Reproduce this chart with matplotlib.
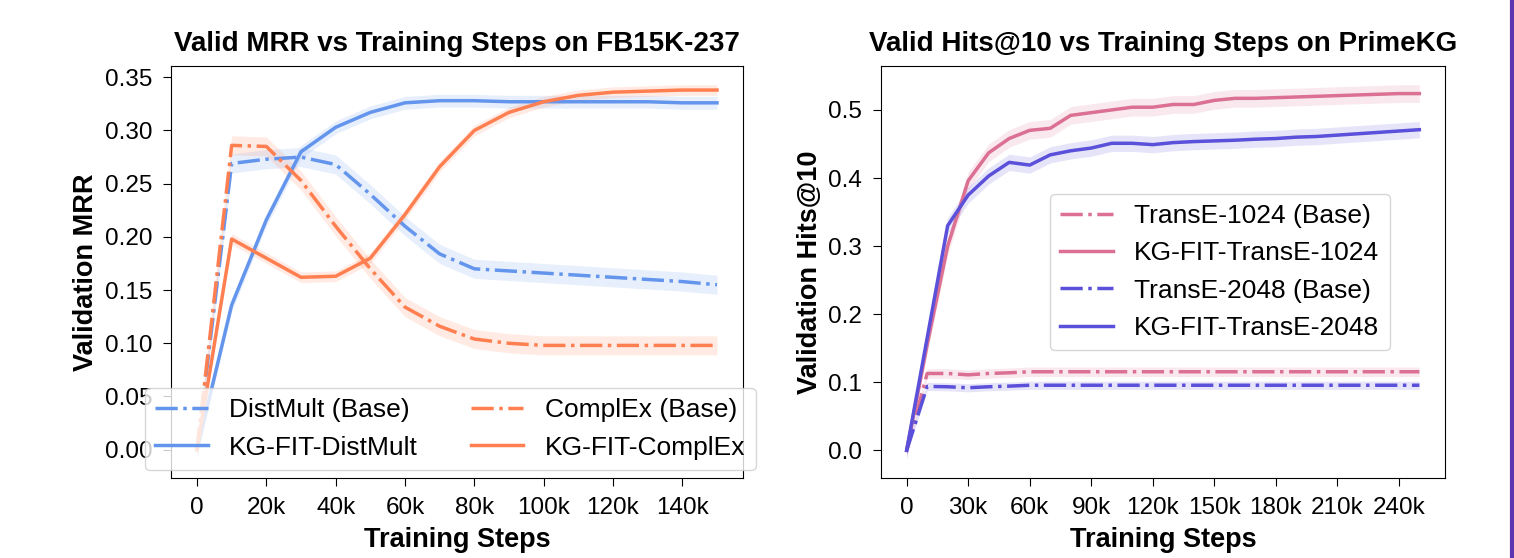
import matplotlib
matplotlib.use("Agg")
import matplotlib.pyplot as plt
from matplotlib.ticker import FuncFormatter
from matplotlib.lines import Line2D
import numpy as np

plt.rcParams['font.family'] = ['Liberation Sans', 'DejaVu Sans']

# ---- FB15K-237 (valid MRR) ----
steps_fb = [0, 10000, 20000, 30000, 40000, 50000, 60000, 70000, 80000,
            90000, 100000, 110000, 120000, 130000, 140000, 150000]
distmult_base = [0.0, 0.269, 0.273, 0.275, 0.268, 0.240, 0.210, 0.184, 0.170,
                 0.168, 0.166, 0.164, 0.162, 0.160, 0.158, 0.155]
kgfit_distmult = [0.0, 0.136, 0.216, 0.280, 0.303, 0.317, 0.326, 0.328, 0.328,
                  0.327, 0.327, 0.327, 0.327, 0.327, 0.326, 0.326]
complex_base = [0.0, 0.286, 0.285, 0.253, 0.210, 0.170, 0.134, 0.116, 0.104,
                0.100, 0.098, 0.098, 0.098, 0.098, 0.098, 0.098]
kgfit_complex = [0.0, 0.198, 0.180, 0.162, 0.163, 0.180, 0.221, 0.266, 0.300,
                 0.317, 0.327, 0.333, 0.336, 0.337, 0.338, 0.338]
band_fb = [0.009, 0.006, 0.009, 0.005]

# ---- PrimeKG (valid Hits@10) ----
steps_pk = [0, 10000, 20000, 30000, 40000, 50000, 60000, 70000, 80000, 90000,
            100000, 110000, 120000, 130000, 140000, 150000, 160000, 170000,
            180000, 190000, 200000, 210000, 220000, 230000, 240000, 250000]
transe1024_base = [0.0, 0.113, 0.113, 0.111, 0.113, 0.114, 0.1155, 0.1155, 0.1155,
                   0.1155, 0.1155, 0.1155, 0.1155, 0.1155, 0.1155, 0.1155, 0.1155,
                   0.1155, 0.1155, 0.1155, 0.1155, 0.1155, 0.1155, 0.1155, 0.1155, 0.1155]
kgfit_transe1024 = [0.0, 0.155, 0.300, 0.396, 0.437, 0.458, 0.470, 0.473, 0.492,
                    0.496, 0.500, 0.504, 0.504, 0.508, 0.508, 0.514, 0.517, 0.517,
                    0.518, 0.519, 0.520, 0.521, 0.522, 0.523, 0.524, 0.524]
transe2048_base = [0.0, 0.094, 0.0935, 0.092, 0.0935, 0.0944, 0.0957, 0.0957, 0.0957,
                   0.0957, 0.0957, 0.0957, 0.0957, 0.0957, 0.0957, 0.0957, 0.0957,
                   0.0957, 0.0957, 0.0957, 0.0957, 0.0957, 0.0957, 0.0957, 0.0957, 0.0957]
kgfit_transe2048 = [0.0, 0.165, 0.330, 0.375, 0.403, 0.423, 0.419, 0.434, 0.440,
                    0.444, 0.451, 0.451, 0.449, 0.452, 0.4535, 0.4545, 0.4555, 0.457,
                    0.458, 0.460, 0.461, 0.463, 0.465, 0.467, 0.469, 0.471]
band_pk = [0.007, 0.013, 0.006, 0.012]

blue = '#6495ED'
coral = '#FF7F50'
pink = '#DB7093'
purple = '#5B50D9'

def kfmt(v, pos):
    if v == 0:
        return '0'
    return '%dk' % int(round(v / 1000))

fig = plt.figure(figsize=(15.14, 5.58), dpi=100)
ax1 = fig.add_axes([171 / 1514, 80 / 558, 572 / 1514, 412 / 558])
ax2 = fig.add_axes([881 / 1514, 80 / 558, 564 / 1514, 412 / 558])

lw = 2.5
title_fs = 20
label_fs = 19.5
tick_fs = 17.5
legend_fs = 19

series_fb = [(distmult_base, blue, '-.', 'DistMult (Base)'),
             (kgfit_distmult, blue, '-', 'KG-FIT-DistMult'),
             (complex_base, coral, '-.', 'ComplEx (Base)'),
             (kgfit_complex, coral, '-', 'KG-FIT-ComplEx')]
x = np.array(steps_fb)
for (vals, c, ls, lab), b in zip(series_fb, band_fb):
    y = np.array(vals)
    ax1.fill_between(x, y - b, y + b, color=c, alpha=0.15, lw=0)
    ax1.plot(x, y, color=c, ls=ls, lw=lw, label=lab)

ax1.set_title('Valid MRR vs Training Steps on FB15K-237', fontsize=title_fs,
              fontweight='bold', pad=11)
ax1.set_xlabel('Training Steps', fontsize=label_fs, fontweight='bold', labelpad=6)
ax1.set_ylabel('Validation MRR', fontsize=label_fs, fontweight='bold')
ax1.set_xticks([0, 20000, 40000, 60000, 80000, 100000, 120000, 140000])
ax1.set_yticks([0.0, 0.05, 0.10, 0.15, 0.20, 0.25, 0.30, 0.35])
ax1.yaxis.set_major_formatter(FuncFormatter(lambda v, p: '%.2f' % v))
ax1.xaxis.set_major_formatter(FuncFormatter(kfmt))
ax1.tick_params(labelsize=tick_fs, length=5.5, pad=8)
ax1.legend(ncol=2, loc='lower center', bbox_to_anchor=(0.488, 0.0),
           fontsize=legend_fs, borderaxespad=0.3)

series_pk = [(transe1024_base, pink, '-.', 'TransE-1024 (Base)'),
             (kgfit_transe1024, pink, '-', 'KG-FIT-TransE-1024'),
             (transe2048_base, purple, '-.', 'TransE-2048 (Base)'),
             (kgfit_transe2048, purple, '-', 'KG-FIT-TransE-2048')]
x = np.array(steps_pk)
for (vals, c, ls, lab), b in zip(series_pk, band_pk):
    y = np.array(vals)
    ax2.fill_between(x, y - b, y + b, color=c, alpha=0.15, lw=0)
    ax2.plot(x, y, color=c, ls=ls, lw=lw, label=lab)

ax2.set_title('Valid Hits@10 vs Training Steps on PrimeKG', fontsize=title_fs,
              fontweight='bold', pad=11)
ax2.set_xlabel('Training Steps', fontsize=label_fs, fontweight='bold', labelpad=6)
ax2.set_ylabel('Validation Hits@10', fontsize=label_fs, fontweight='bold')
ax2.set_xticks([0, 30000, 60000, 90000, 120000, 150000, 180000, 210000, 240000])
ax2.set_yticks([0.0, 0.1, 0.2, 0.3, 0.4, 0.5])
ax2.yaxis.set_major_formatter(FuncFormatter(lambda v, p: '%.1f' % v))
ax2.xaxis.set_major_formatter(FuncFormatter(kfmt))
ax2.tick_params(labelsize=tick_fs, length=5.5, pad=8)
ax2.legend(loc='center', bbox_to_anchor=(0.601, 0.5), fontsize=legend_fs)

# purple page border on the right edge
fig.add_artist(Line2D([0.9985, 0.9985], [0, 1], transform=fig.transFigure,
                      color='#5E35B1', lw=3))

fig.savefig('out.png', dpi=100)
